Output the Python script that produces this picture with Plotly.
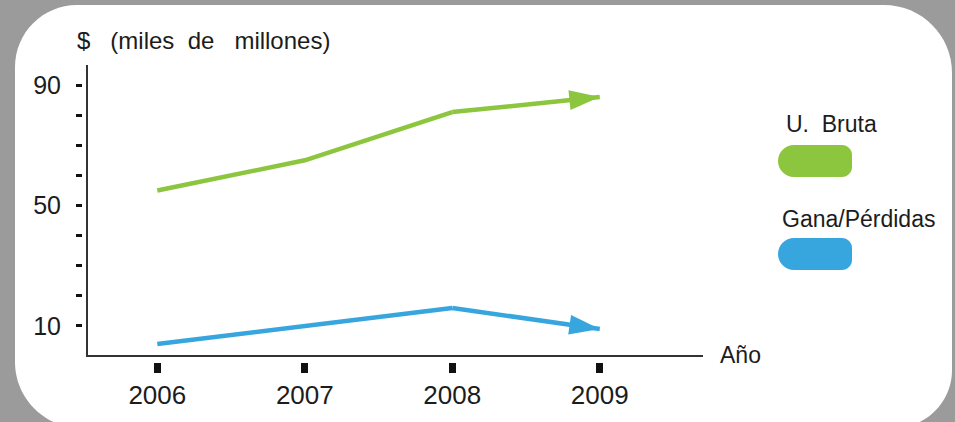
import plotly.graph_objects as go

# ---- data ----
years = [2006, 2007, 2008, 2009]
year_labels = ["2006", "2007", "2008", "2009"]
u_bruta = [55, 65, 81, 86]
gana_perdidas = [4, 10, 16, 9]
series_names = ["U.\u00a0\u00a0Bruta", "Gana/Pérdidas"]
y_tick_vals = [10, 20, 30, 40, 50, 60, 70, 80, 90]
y_tick_text = ["10", "", "", "", "50", "", "", "", "90"]
y_title = "$\u00a0\u00a0\u00a0(miles\u00a0\u00a0de\u00a0\u00a0\u00a0millones)"
x_title = "Año"

# ---- style ----
GREEN = "#8cc63f"
BLUE = "#38a6de"
GRAY = "#9b9b9b"
INK = "#1c1c1c"
AXIS = "#333333"
FONT = "Liberation Sans, Arial, sans-serif"

W, H = 955, 422
ML, MR, MT, MB = 70, 252, 65, 30
PW = W - ML - MR
PH = H - MT - MB


def px(x):
    return (x - ML) / PW


def py(y):
    return (H - MB - y) / PH


def P(x, y):
    return f"{px(x):.5f},{py(y):.5f}"


def pill(x0, x1, y0, y1, rr):
    r = (y1 - y0) / 2
    cy = (y0 + y1) / 2
    k = 0.552
    return (f"M{P(x0 + r, y0)} L{P(x1 - rr, y0)} "
            f"C{P(x1 - rr + k * rr, y0)} {P(x1, y0 + rr - k * rr)} {P(x1, y0 + rr)} "
            f"L{P(x1, y1 - rr)} "
            f"C{P(x1, y1 - rr + k * rr)} {P(x1 - rr + k * rr, y1)} {P(x1 - rr, y1)} "
            f"L{P(x0 + r, y1)} "
            f"C{P(x0 + r - k * r, y1)} {P(x0, cy + k * r)} {P(x0, cy)} "
            f"C{P(x0, cy - k * r)} {P(x0 + r - k * r, y0)} {P(x0 + r, y0)} Z")


def panel(x0, x1, y0, y1, tl, tr, br, bl):
    k = 0.552
    return (f"M{P(x0 + tl, y0)} L{P(x1 - tr, y0)} "
            f"C{P(x1 - tr + k * tr, y0)} {P(x1, y0 + tr - k * tr)} {P(x1, y0 + tr)} "
            f"L{P(x1, y1 - br)} "
            f"C{P(x1, y1 - br + k * br)} {P(x1 - br + k * br, y1)} {P(x1 - br, y1)} "
            f"L{P(x0 + bl, y1)} "
            f"C{P(x0 + bl - k * bl, y1)} {P(x0, y1 - bl + k * bl)} {P(x0, y1 - bl)} "
            f"L{P(x0, y0 + tl)} "
            f"C{P(x0, y0 + tl - k * tl)} {P(x0 + tl - k * tl, y0)} {P(x0 + tl, y0)} Z")


xr = [2005.53, 2009.70]
yr = [0.37, 96.64]

fig = go.Figure()
for vals, col in [(u_bruta, GREEN), (gana_perdidas, BLUE)]:
    # body of the line (all but the last segment)
    fig.add_trace(go.Scatter(
        x=years[:-1], y=vals[:-1], mode="lines",
        line=dict(color=col, width=4.5),
        showlegend=False, hoverinfo="skip", cliponaxis=False,
    ))
    # last segment, trimmed before the arrowhead
    fig.add_trace(go.Scatter(
        x=years[-2:], y=vals[-2:], mode="lines",
        line=dict(color=col, width=4.5, backoff=[0, 16]),
        showlegend=False, hoverinfo="skip", cliponaxis=False,
    ))
    # arrowhead
    fig.add_trace(go.Scatter(
        x=years[-2:], y=vals[-2:], mode="markers",
        marker=dict(symbol="arrow", angleref="previous", opacity=1,
                    size=[0, 32], color=col, line=dict(width=0)),
        showlegend=False, hoverinfo="skip", cliponaxis=False,
    ))
# dummy trace to activate the tick axes
fig.add_trace(go.Scatter(x=years, y=[None] * len(years), xaxis="x2", yaxis="y2",
                         showlegend=False, hoverinfo="skip"))

ydom = [py(355), 1]
fig.update_layout(
    width=W, height=H,
    margin=dict(l=ML, r=MR, t=MT, b=MB, pad=0, autoexpand=False),
    paper_bgcolor=GRAY, plot_bgcolor="white",
    font=dict(family=FONT, color=INK),
    xaxis=dict(domain=[px(88), 1], range=xr, anchor="y", showline=True,
               linecolor=AXIS, linewidth=2, showgrid=False, zeroline=False,
               showticklabels=False, ticks="", fixedrange=True, automargin=False),
    yaxis=dict(domain=ydom, range=yr, anchor="x", showline=True,
               linecolor=AXIS, linewidth=2, showgrid=False, zeroline=False,
               showticklabels=False, ticks="", fixedrange=True, automargin=False),
    xaxis2=dict(overlaying="x", anchor="free", position=py(362), side="bottom",
                range=xr, tickmode="array", tickvals=years, ticktext=year_labels,
                ticks="outside", ticklen=10, tickwidth=7, tickcolor="#111111",
                showline=False, showgrid=False, zeroline=False,
                tickfont=dict(size=26, color=INK, family=FONT),
                ticklabelstandoff=0, fixedrange=True, automargin=False),
    yaxis2=dict(overlaying="y", anchor="free", position=px(82), side="left",
                range=yr, tickmode="array", tickvals=y_tick_vals, ticktext=y_tick_text,
                ticks="outside", ticklen=6, tickwidth=3, tickcolor="#111111",
                showline=False, showgrid=False, zeroline=False,
                tickfont=dict(size=25, color=INK, family=FONT),
                ticklabelstandoff=10, fixedrange=True, automargin=False),
    shapes=[
        dict(type="path", xref="paper", yref="paper", layer="below",
             path=panel(15, 952, 5, 428, 62, 68, 58, 66),
             fillcolor="white", line=dict(width=0)),
        dict(type="path", xref="paper", yref="paper",
             path=pill(778, 852, 145, 177, 10), fillcolor=GREEN, line=dict(width=0)),
        dict(type="path", xref="paper", yref="paper",
             path=pill(778, 852, 238, 270, 10), fillcolor=BLUE, line=dict(width=0)),
    ],
    annotations=[
        dict(text=y_title, xref="paper", yref="paper", x=px(75), y=py(40),
             xanchor="left", yanchor="middle", showarrow=False,
             font=dict(size=24, color=INK)),
        dict(text=x_title, xref="paper", yref="paper", x=px(718), y=py(355),
             xanchor="left", yanchor="middle", showarrow=False,
             font=dict(size=23, color=INK)),
        dict(text=series_names[0], xref="paper", yref="paper", x=px(784), y=py(124),
             xanchor="left", yanchor="middle", showarrow=False,
             font=dict(size=23, color=INK)),
        dict(text=series_names[1], xref="paper", yref="paper", x=px(780), y=py(219),
             xanchor="left", yanchor="middle", showarrow=False,
             font=dict(size=23, color=INK)),
    ],
)

fig.write_html("out.html")
